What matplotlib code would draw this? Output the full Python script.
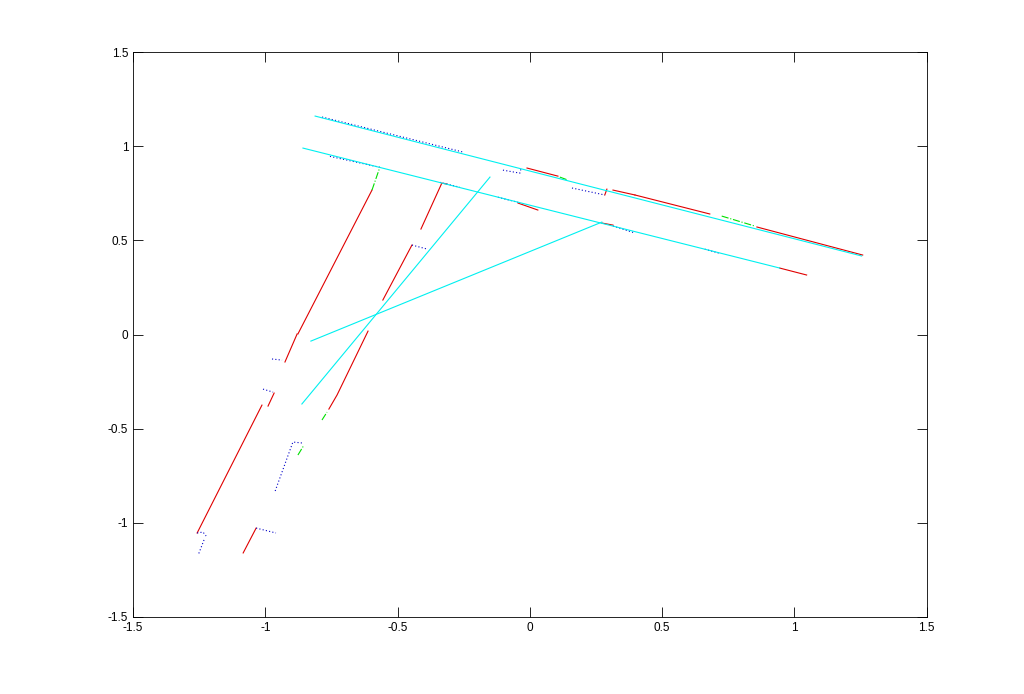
import matplotlib
matplotlib.use("Agg")
import matplotlib.pyplot as plt

# wall segments, in data units: list of (xs, ys)
cyan_lines = [
    ([-0.812, 1.254], [1.160, 0.417]),
    ([-0.858, 0.944], [0.990, 0.353]),
    ([-0.862, -0.151], [-0.369, 0.836]),
    ([-0.828, 0.272], [-0.035, 0.597]),
]

red_lines = [
    ([-1.258, -1.013], [-1.054, -0.375]),
    ([-0.990, -0.967], [-0.380, -0.311]),
    ([-0.926, -0.880], [-0.146, 0.003]),
    ([-0.877, -0.597], [0.003, 0.767]),
    ([-1.084, -1.035], [-1.160, -1.028]),
    ([-0.760, -0.729, -0.612], [-0.396, -0.321, 0.018]),
    ([-0.556, -0.446], [0.183, 0.475]),
    ([-0.412, -0.333, -0.314], [0.560, 0.804, 0.799]),
    ([-0.011, 0.106], [0.884, 0.841]),
    ([0.283, 0.291], [0.741, 0.772]),
    ([0.314, 0.397], [0.767, 0.741]),
    ([0.397, 0.680], [0.741, 0.640]),
    ([0.858, 1.258], [0.571, 0.422]),
    ([-0.045, 0.030], [0.698, 0.661]),
    ([0.272, 0.314], [0.592, 0.581]),
    ([0.944, 1.046], [0.353, 0.316]),
]

blue_lines = [
    ([-1.258, -1.236, -1.224], [-1.054, -1.049, -1.070]),
    ([-1.232, -1.254], [-1.091, -1.171]),
    ([-1.009, -0.971], [-0.290, -0.306]),
    ([-0.975, -0.937], [-0.130, -0.136]),
    ([-1.035, -0.960], [-1.028, -1.054]),
    ([-0.963, -0.896, -0.862], [-0.831, -0.571, -0.576]),
    ([-0.446, -0.389], [0.475, 0.454]),
    ([-0.102, -0.038, -0.034], [0.873, 0.857, 0.879]),
    ([0.159, 0.283], [0.778, 0.741]),
    ([0.314, 0.397], [0.576, 0.539]),
    ([-0.786, -0.253], [1.155, 0.969]),
    ([-0.756, -0.567], [0.946, 0.888]),
    ([-0.340, -0.265], [0.808, 0.782]),
    ([-0.121, -0.045], [0.729, 0.702]),
    ([0.661, 0.718], [0.453, 0.431]),
]

green_lines = [
    ([-0.597, -0.567], [0.767, 0.889]),
    ([-0.877, -0.854], [-0.640, -0.587]),
    ([-0.786, -0.767], [-0.454, -0.412]),
    ([0.113, 0.144], [0.836, 0.820]),
    ([0.725, 0.850], [0.629, 0.576]),
]

ticks = [-1.5, -1, -0.5, 0, 0.5, 1, 1.5]
tick_labels = ["-1.5", "-1", "-0.5", "0", "0.5", "1", "1.5"]

plt.rcParams["font.family"] = ["Liberation Sans", "DejaVu Sans"]

fig = plt.figure(figsize=(10.24, 6.94), dpi=100)
ax = fig.add_axes([0.13, 0.111, 0.775, 0.814])

lw = 0.8
for xs, ys in red_lines:
    ax.plot(xs, ys, color="#e00000", lw=lw)
for xs, ys in blue_lines:
    ax.plot(xs, ys, color="#0000c8", lw=lw, linestyle=(0, (1, 2)))
for xs, ys in green_lines:
    ax.plot(xs, ys, color="#00e000", lw=lw, linestyle="-.")
for xs, ys in cyan_lines:
    ax.plot(xs, ys, color="#00f0f0", lw=lw)

ax.set_xlim(-1.5, 1.5)
ax.set_ylim(-1.5, 1.5)
ax.set_xticks(ticks)
ax.set_xticklabels(tick_labels)
ax.set_yticks(ticks)
ax.set_yticklabels(tick_labels)
ax.tick_params(direction="in", length=7, width=0.6, labelsize=8.5,
               top=True, right=True, colors="black")
for s in ax.spines.values():
    s.set_linewidth(0.6)

fig.savefig("out.png", dpi=100)
